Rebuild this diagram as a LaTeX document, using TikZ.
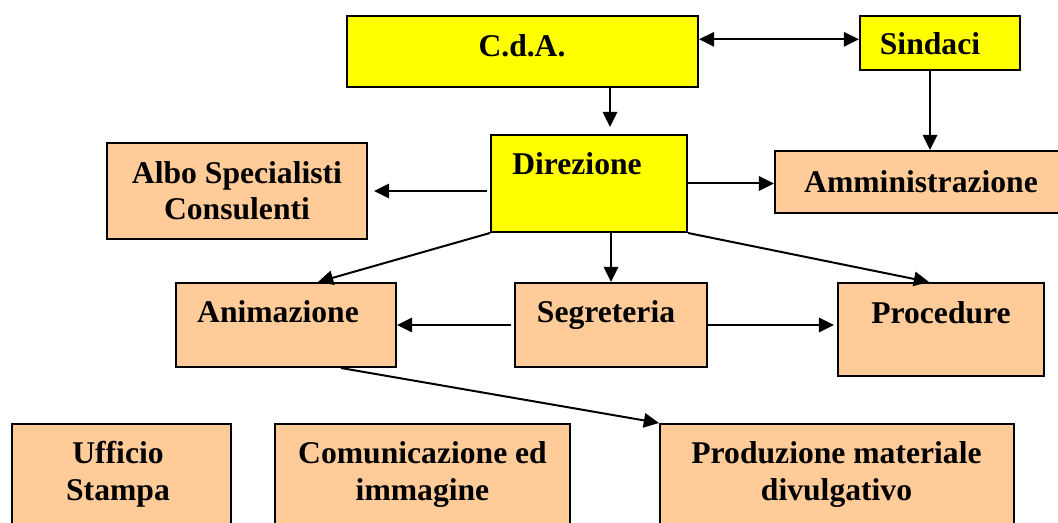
\documentclass[tikz,border=0pt]{standalone}
\usepackage{fontspec}
\setmainfont{Liberation Serif}
\usetikzlibrary{arrows.meta}
\definecolor{peach}{RGB}{255,204,153}
\definecolor{lemon}{RGB}{255,255,0}
\newcommand{\boxfont}{\fontsize{22.5}{26.2}\selectfont\bfseries}

\begin{document}
\begin{tikzpicture}[>={Triangle[length=0.38cm,width=0.36cm]},
  box/.style={draw,rectangle,line width=0.05cm,inner sep=0pt},
  yel/.style={box,fill=lemon},
  org/.style={box,fill=peach},
  txt/.style={anchor=base,align=center,font=\boxfont},
  arr/.style={line width=0.05cm,->}]
\clip (0,0) rectangle (26.45,13.05);

% boxes
\node [yel,minimum width=8.775cm,minimum height=1.775cm] (cda) at(13.0625,11.7625){};
\node [yel,minimum width=4cm,minimum height=1.35cm] (sin) at(23.5,11.975){};
\node [yel,minimum width=4.9cm,minimum height=2.425cm] (dir) at(14.725,8.4625){};
\node [org,minimum width=6.5cm,minimum height=2.4cm] (alb) at(5.925,8.275){};
\node [org,minimum width=7.225cm,minimum height=1.55cm] (amm) at(22.9875,8.5){};
\node [org,minimum width=5.5cm,minimum height=2.1cm] (ani) at(7.15,4.925){};
\node [org,minimum width=4.8cm,minimum height=2.1cm] (seg) at(15.275,4.925){};
\node [org,minimum width=5.15cm,minimum height=2.325cm] (pro) at(23.525,4.8125){};
\node [org,minimum width=5.475cm,minimum height=2.9cm] (uff) at(3.0375,1){};
\node [org,minimum width=7.375cm,minimum height=2.9cm] (com) at(10.5625,1){};
\node [org,minimum width=8.85cm,minimum height=2.9cm] (prd) at(20.925,1){};

% texts (base = last line)
\node [txt] (cdatxt) at(13.05,11.625){C.d.A.};
\node [txt] (sintxt) at(23.25,11.675){Sindaci};
\node [txt] (dirtxt) at(14.425,8.675){Direzione};
\node [txt] (albtxt) at(5.925,7.55){Albo Specialisti\\Consulenti};
\node [txt] (ammtxt) at(23.025,8.225){Amministrazione};
\node [txt] (anitxt) at(6.95,4.975){Animazione};
\node [txt] (segtxt) at(15.15,4.975){Segreteria};
\node [txt] (protxt) at(23.525,4.95){Procedure};
\node [txt] (ufftxt) at(2.95,0.55){Ufficio\\Stampa};
\node [txt] (comtxt) at(10.5625,0.55){Comunicazione ed\\immagine};
\node [txt] (prdtxt) at(20.9125,0.55){Produzione materiale\\divulgativo};

% connectors
\draw [arr,<->] ([yshift=0.0925cm]cda.east |- sin.west) -- ([yshift=0.0925cm]sin.west);
\draw [arr,shorten >=0.175cm] ([xshift=0.525cm]dir.north |- cda.south) -- ([xshift=0.525cm]dir.north);
\draw [arr] ([xshift=-0.25cm]sin.south) -- ([xshift=-0.25cm]sin.south |- amm.north);
\draw [arr,shorten <=0.085cm,shorten >=0.15cm] (dir.west |- alb.east) -- (alb.east);
\draw [arr] (dir.east) -- (dir.east -| amm.west);
\draw [arr] (dir.south west) -- ([xshift=0.8cm]ani.north);
\draw [arr] (dir.south -| seg.north) -- (seg.north);
\draw [arr] (dir.south east) -- ([xshift=-0.3cm]pro.north);
\draw [arr,shorten <=0.075cm] (seg.west) -- (ani.east);
\draw [arr,shorten >=0.075cm] (seg.east) -- (seg.east -| pro.west);
\draw [arr] ([xshift=1.375cm]ani.south) -- (prd.north west);
\end{tikzpicture}
\end{document}
